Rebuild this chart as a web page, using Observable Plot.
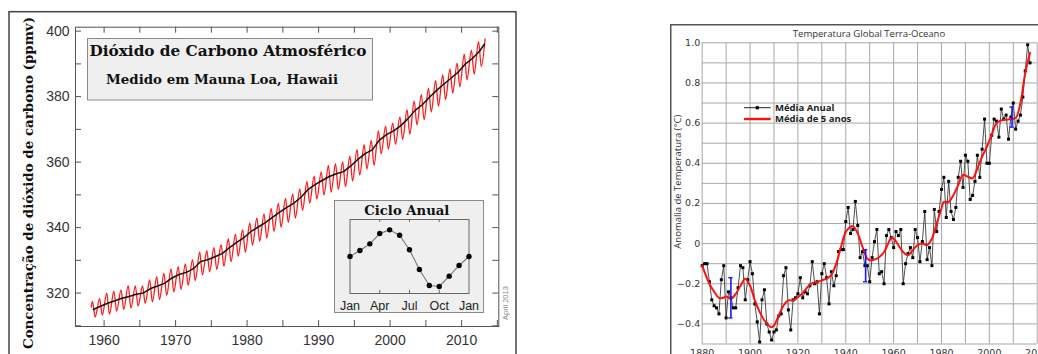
<!DOCTYPE html>
<html><head><meta charset="utf-8">
<script src="https://cdn.jsdelivr.net/npm/d3@7"></script>
<script src="https://cdn.jsdelivr.net/npm/@observablehq/plot@0.6"></script>
<style>
html,body{margin:0;padding:0;background:#fff;overflow:hidden;width:1038px;height:354px}
#root{position:relative;width:1038px;height:354px;overflow:hidden;background:#fff}
</style></head><body><div id="root"></div>
<script>
// ---------- Left chart: CO2 at Mauna Loa ----------
const co2Years = d3.range(1958, 2014);
const co2Mean = [315.0,315.97,316.91,317.64,318.45,318.99,319.62,320.04,321.38,322.16,323.04,324.62,325.68,326.32,327.45,329.68,330.18,331.11,332.04,333.83,335.40,336.84,338.75,340.11,341.45,343.05,344.65,346.12,347.42,349.19,351.57,353.12,354.39,355.61,356.45,357.10,358.83,360.82,362.61,363.73,366.70,368.38,369.55,371.14,373.28,375.80,377.52,379.80,381.90,383.79,385.60,387.43,389.90,391.65,393.85,396.0];
const cycleYears = d3.range(1958, 2013);
const co2Peak = [317.5,318.3,320.0,320.6,321.0,322.3,322.2,322.2,324.0,325.0,326.0,327.4,328.1,328.9,330.2,332.5,333.0,333.9,334.8,336.6,338.0,339.4,341.4,343.0,344.2,345.9,347.4,348.9,350.3,351.8,354.1,355.7,357.0,359.0,359.5,360.1,361.8,363.8,365.3,366.6,369.5,371.0,371.9,373.8,376.0,378.6,380.6,382.5,384.9,386.6,388.5,390.2,393.0,394.2,396.8];
const co2Trough = [312.7,313.3,313.6,314.5,315.0,315.4,316.0,316.9,317.3,318.0,319.3,320.4,321.1,322.4,323.8,325.6,326.5,327.2,328.2,329.6,331.2,332.4,334.6,335.8,336.8,338.8,340.1,341.6,342.9,345.2,347.5,348.7,349.9,350.8,351.6,352.5,354.2,356.0,357.9,359.0,362.5,364.0,365.4,366.9,368.5,371.4,373.0,375.3,377.1,379.1,381.1,383.0,385.1,386.9,389.2];
const co2First = {t: 1958.2, v: 315.7};   // March 1958
const co2Last = {t: 2013.28, v: 397.6};   // April 2013
const peakFrac = 0.37, troughFrac = 0.75; // May, late Sep/Oct
const co2XTicks = [1960, 1970, 1980, 1990, 2000, 2010];
const co2XMinor = [1960, 1965, 1970, 1975, 1980, 1985, 1990, 1995, 2000, 2005, 2010, 2015];
const co2YTicks = [320, 340, 360, 380, 400];
const co2YMinor = [310, 320, 330, 340, 350, 360, 370, 380, 390, 400];

// Inset annual cycle
const cycleMonth = [0,1,2,3,4,5,6,7,8,9,10,11,12];
const cycleValue = [0.0,0.61,1.28,2.33,2.70,2.16,0.68,-1.32,-2.94,-3.04,-1.99,-0.91,0.0];
const monthTicks = [0, 3, 6, 9, 12];
const monthLabels = ["Jan", "Apr", "Jul", "Oct", "Jan"];

// ---------- Right chart: global temperature ----------
const tempYears = d3.range(1880, 2018);
const tempAnnual = [
-0.11,-0.10,-0.10,-0.19,-0.28,-0.31,-0.32,-0.35,-0.18,-0.11,
-0.37,-0.24,-0.27,-0.32,-0.32,-0.22,-0.11,-0.12,-0.28,-0.18,
-0.09,-0.15,-0.30,-0.39,-0.49,-0.28,-0.23,-0.40,-0.44,-0.48,
-0.44,-0.43,-0.36,-0.35,-0.16,-0.12,-0.33,-0.43,-0.28,-0.27,
-0.25,-0.17,-0.27,-0.24,-0.25,-0.21,-0.09,-0.20,-0.19,-0.35,
-0.15,-0.10,-0.17,-0.30,-0.14,-0.21,-0.16,-0.04,-0.03,-0.03,
0.11,0.18,0.05,0.07,0.21,0.09,-0.07,-0.04,-0.11,-0.11,
-0.19,-0.07,0.01,0.07,-0.15,-0.14,-0.20,0.04,0.07,0.03,
-0.02,0.06,0.04,0.07,-0.20,-0.10,-0.05,-0.02,-0.07,0.07,
0.03,-0.09,0.01,0.16,-0.08,-0.02,-0.11,0.17,0.06,0.16,
0.27,0.33,0.13,0.31,0.16,0.12,0.18,0.33,0.41,0.28,
0.44,0.41,0.22,0.24,0.31,0.44,0.33,0.47,0.62,0.40,
0.40,0.54,0.62,0.61,0.53,0.67,0.62,0.64,0.52,0.63,
0.70,0.57,0.61,0.64,0.73,0.86,0.99,0.90];
const smoothYears = [1880,1883,1885,1887,1889,1890,1892,1894,1896,1898,1900,1902,1904,1906,1908,1909,1910,1912,1914,1916,1918,1920,1922,1924,1926,1928,1930,1932,1934,1936,1938,1940,1942,1943,1945,1947,1949,1950,1952,1954,1956,1958,1959,1960,1962,1964,1966,1968,1970,1972,1974,1976,1978,1980,1981,1983,1985,1987,1989,1991,1993,1995,1997,1999,2001,2003,2005,2007,2009,2011,2013,2015,2017];
const smoothValues = [-0.11,-0.20,-0.24,-0.27,-0.27,-0.263,-0.275,-0.25,-0.21,-0.175,-0.21,-0.283,-0.34,-0.383,-0.41,-0.417,-0.408,-0.358,-0.308,-0.283,-0.283,-0.267,-0.247,-0.217,-0.197,-0.192,-0.183,-0.175,-0.155,-0.10,-0.017,0.058,0.083,0.087,0.05,-0.017,-0.075,-0.083,-0.08,-0.067,-0.042,0.008,0.028,0.025,-0.008,-0.042,-0.058,-0.033,-0.008,0.0,-0.008,0.025,0.10,0.175,0.208,0.208,0.242,0.292,0.342,0.333,0.325,0.375,0.433,0.483,0.542,0.60,0.613,0.617,0.62,0.625,0.70,0.85,0.95];
const errYears = [1892, 1948.3, 2009.5];
const errLow = [-0.37, -0.19, 0.58];
const errHigh = [-0.17, -0.03, 0.68];
const tempXTicks = [1880, 1900, 1920, 1940, 1960, 1980, 2000, 2020];
const tempXGrid = [1880,1890,1900,1910,1920,1930,1940,1950,1960,1970,1980,1990,2000,2010,2020];
const tempYTicks = [-0.4, -0.2, 0, 0.2, 0.4, 0.6, 0.8, 1.0];
const tempYGrid = [-0.5,-0.4,-0.3,-0.2,-0.1,0,0.1,0.2,0.3,0.4,0.5,0.6,0.7,0.8,0.9,1.0];

// ---------- Build tables ----------
const redSeries = [co2First];
cycleYears.forEach((y, i) => {
  redSeries.push({t: y + peakFrac, v: co2Peak[i]});
  redSeries.push({t: y + troughFrac, v: co2Trough[i]});
});
redSeries.push(co2Last);
const trendSeries = co2Years.map((y, i) => ({t: Math.min(y + 0.5, co2Last.t - 0.1), v: co2Mean[i]}));
const cycleSeries = cycleMonth.map((m, i) => ({m, v: cycleValue[i]}));
const tempSeries = tempYears.map((y, i) => ({year: y, v: tempAnnual[i]}));
const smoothSeries = smoothYears.map((y, i) => ({year: y, v: smoothValues[i]}));
const errSeries = errYears.map((y, i) => ({year: y, lo: errLow[i], hi: errHigh[i]}));

const root = document.getElementById("root");
function place(el, left, top) {
  el.style.position = "absolute";
  el.style.left = left + "px";
  el.style.top = top + "px";
  el.style.maxWidth = "none";
  root.appendChild(el);
}

// ---------- Left plot ----------
const L = {w: 520, h: 354, ml: 75, mr: 21.7, mt: 26.7, mb: 28};
const lpW = L.w - L.ml - L.mr, lpH = L.h - L.mt - L.mb;
const leftSvg = Plot.plot({
  width: L.w, height: L.h,
  marginLeft: L.ml, marginRight: L.mr, marginTop: L.mt, marginBottom: L.mb,
  x: {domain: [1956.0, 2015.2]},
  y: {domain: [309.8, 401.2]},
  style: {background: "transparent", fontFamily: "'Liberation Sans', Arial, sans-serif", fontSize: "14px", color: "#333"},
  marks: [
    Plot.line(redSeries, {x: "t", y: "v", stroke: "#ff1a1a", strokeWidth: 1.3, curve: "monotone-x"}),
    Plot.line(trendSeries, {x: "t", y: "v", stroke: "#111", strokeWidth: 1.5}),
    Plot.frame({stroke: "#555", strokeWidth: 1}),
    Plot.ruleX(co2XMinor, {x: d => d, insetTop: lpH - 6, stroke: "#555"}),
    Plot.ruleX(co2XMinor, {x: d => d, insetBottom: lpH - 6, stroke: "#555"}),
    Plot.ruleY(co2YMinor, {y: d => d, insetRight: lpW - 6, stroke: "#555"}),
    Plot.ruleY(co2YMinor, {y: d => d, insetLeft: lpW - 6, stroke: "#555"}),
    Plot.axisX(co2XTicks, {tickSize: 0, tickPadding: 9, tickFormat: d => String(d), label: null, fill: "#333"}),
    Plot.axisY(co2YTicks, {tickSize: 0, tickPadding: 6, tickFormat: d => String(d), label: null, fill: "#333"})
  ]
});
place(leftSvg, 0, 0);
const ls = d3.select(leftSvg);
ls.append("rect").attr("x", 9).attr("y", 11.7).attr("width", 507).attr("height", 400)
  .attr("fill", "none").attr("stroke", "#444").attr("stroke-width", 1.5);
ls.append("rect").attr("x", 87.5).attr("y", 38.5).attr("width", 285).attr("height", 61.5)
  .attr("fill", "#efefef").attr("stroke", "#8a8a8a").attr("stroke-width", 1);
ls.append("text").attr("x", 228).attr("y", 56).attr("text-anchor", "middle")
  .attr("font-family", "'DejaVu Serif', serif").attr("font-weight", "bold").attr("font-size", 14.5)
  .attr("textLength", 277).attr("lengthAdjust", "spacingAndGlyphs").attr("fill", "#111")
  .text("Dióxido de Carbono Atmosférico");
ls.append("text").attr("x", 222).attr("y", 84.3).attr("text-anchor", "middle")
  .attr("font-family", "'DejaVu Serif', serif").attr("font-weight", "bold").attr("font-size", 12.5)
  .attr("textLength", 232).attr("lengthAdjust", "spacingAndGlyphs").attr("fill", "#111")
  .text("Medido em Mauna Loa, Hawaii");
ls.append("text").attr("transform", "translate(32.5,17) rotate(-90)").attr("text-anchor", "end")
  .attr("font-family", "'DejaVu Serif', serif").attr("font-weight", "bold").attr("font-size", 13)
  .attr("textLength", 332).attr("lengthAdjust", "spacingAndGlyphs").attr("fill", "#111")
  .text("Concentração de dióxido de carbono (ppmv)");
ls.append("text").attr("transform", "translate(507.5,303) rotate(-90)").attr("text-anchor", "middle")
  .attr("font-family", "'Liberation Sans', Arial, sans-serif").attr("font-size", 7.5).attr("fill", "#888")
  .text("April 2013");

// ---------- Inset ----------
const I = {w: 150, h: 113, ml: 15.5, mr: 15.5, mt: 19, mb: 20};
const ipW = I.w - I.ml - I.mr, ipH = I.h - I.mt - I.mb;
const insetSvg = Plot.plot({
  width: I.w, height: I.h,
  marginLeft: I.ml, marginRight: I.mr, marginTop: I.mt, marginBottom: I.mb,
  x: {domain: [0, 12]},
  y: {domain: [-3.75, 3.75], axis: null},
  style: {background: "#efefef", fontFamily: "'Liberation Sans', Arial, sans-serif", fontSize: "12.5px", color: "#222"},
  marks: [
    Plot.frame({stroke: "#666", strokeWidth: 1}),
    Plot.ruleX([3, 6, 9], {x: d => d, insetTop: ipH - 3, stroke: "#666"}),
    Plot.ruleX([3, 6, 9], {x: d => d, insetBottom: ipH - 3, stroke: "#666"}),
    Plot.line(cycleSeries, {x: "m", y: "v", stroke: "#777", strokeWidth: 1.1}),
    Plot.dot(cycleSeries, {x: "m", y: "v", r: 2.7, fill: "#000"}),
    Plot.axisX(monthTicks, {tickSize: 0, tickPadding: 8, tickFormat: d => monthLabels[monthTicks.indexOf(d)], label: null, fill: "#222"})
  ]
});
place(insetSvg, 334, 200);
const is = d3.select(insetSvg);
is.append("rect").attr("x", 0.5).attr("y", 0.5).attr("width", 149).attr("height", 112)
  .attr("fill", "none").attr("stroke", "#8a8a8a");
is.append("text").attr("x", 72.8).attr("y", 15).attr("text-anchor", "middle")
  .attr("font-family", "'DejaVu Serif', serif").attr("font-weight", "bold").attr("font-size", 13.5)
  .attr("textLength", 85).attr("lengthAdjust", "spacingAndGlyphs").attr("fill", "#111")
  .text("Ciclo Anual");

// ---------- Right plot ----------
const R = {w: 400, h: 380, ml: 31.7, mr: 33.3, mt: 42.3, mb: 36.5};
const fmtT = d => d === 0 ? "0" : (d < 0 ? "\u2212" : "") + Math.abs(d).toFixed(1);
const rightSvg = Plot.plot({
  width: R.w, height: R.h,
  marginLeft: R.ml, marginRight: R.mr, marginTop: R.mt, marginBottom: R.mb,
  x: {domain: [1880, 2020]},
  y: {domain: [-0.5, 1.0]},
  style: {background: "transparent", fontFamily: "'DejaVu Sans', sans-serif", fontSize: "9.5px", color: "#333"},
  marks: [
    Plot.ruleX(tempXGrid, {x: d => d, stroke: "#a8a8a8", strokeWidth: 1}),
    Plot.ruleY(tempYGrid, {y: d => d, stroke: "#a8a8a8", strokeWidth: 1}),
    Plot.line(tempSeries, {x: "year", y: "v", stroke: "#222", strokeWidth: 0.8}),
    Plot.dot(tempSeries, {x: "year", y: "v", symbol: "square", r: 1.7, fill: "#000", stroke: "none"}),
    Plot.line(smoothSeries, {x: "year", y: "v", stroke: "#ff1010", strokeWidth: 2, curve: "catmull-rom"}),
    Plot.ruleX(errSeries, {x: "year", y1: "lo", y2: "hi", stroke: "#1818ff", strokeWidth: 1.6}),
    Plot.ruleY(errSeries, {y: "lo", x1: d => d.year - 0.9, x2: d => d.year + 0.9, stroke: "#1818ff", strokeWidth: 1.4}),
    Plot.ruleY(errSeries, {y: "hi", x1: d => d.year - 0.9, x2: d => d.year + 0.9, stroke: "#1818ff", strokeWidth: 1.4}),
    Plot.axisX(tempXTicks, {tickSize: 0, tickPadding: 5.5, tickFormat: d => String(d), label: null, fill: "#333"}),
    Plot.axisY(tempYTicks, {tickSize: 0, tickPadding: 2, tickFormat: fmtT, label: null, fill: "#333"})
  ]
});
place(rightSvg, 670, 0);
const rs = d3.select(rightSvg);
rs.append("rect").attr("x", 0.75).attr("y", 24.75).attr("width", 500).attr("height", 500)
  .attr("fill", "none").attr("stroke", "#555").attr("stroke-width", 1.5);
rs.append("text").attr("x", 199).attr("y", 36.7).attr("text-anchor", "middle")
  .attr("font-family", "'Open Sans', sans-serif").attr("font-size", 9.5).attr("fill", "#333")
  .text("Temperatura Global Terra-Oceano");
rs.append("text").attr("transform", "translate(11,181.7) rotate(-90)").attr("text-anchor", "middle")
  .attr("font-family", "'Open Sans', sans-serif").attr("font-size", 9.5).attr("fill", "#333")
  .text("Anomalia de Temperatura (°C)");
// legend
const lg = rs.append("g");
lg.append("line").attr("x1", 74).attr("x2", 100.7).attr("y1", 107.7).attr("y2", 107.7).attr("stroke", "#222").attr("stroke-width", 1);
lg.append("rect").attr("x", 85.7).attr("y", 106.1).attr("width", 3.2).attr("height", 3.2).attr("fill", "#000");
lg.append("line").attr("x1", 74).attr("x2", 100.7).attr("y1", 119).attr("y2", 119).attr("stroke", "#ff1010").attr("stroke-width", 2.4);
lg.append("text").attr("x", 105).attr("y", 111).attr("text-anchor", "start").attr("font-family", "'Open Sans', sans-serif").attr("font-weight", "bold").attr("font-size", 9.5).attr("fill", "#222").text("Média Anual");
lg.append("text").attr("x", 105).attr("y", 122.3).attr("text-anchor", "start").attr("font-family", "'Open Sans', sans-serif").attr("font-weight", "bold").attr("font-size", 9.5).attr("fill", "#222").text("Média de 5 anos");
</script></body></html>
